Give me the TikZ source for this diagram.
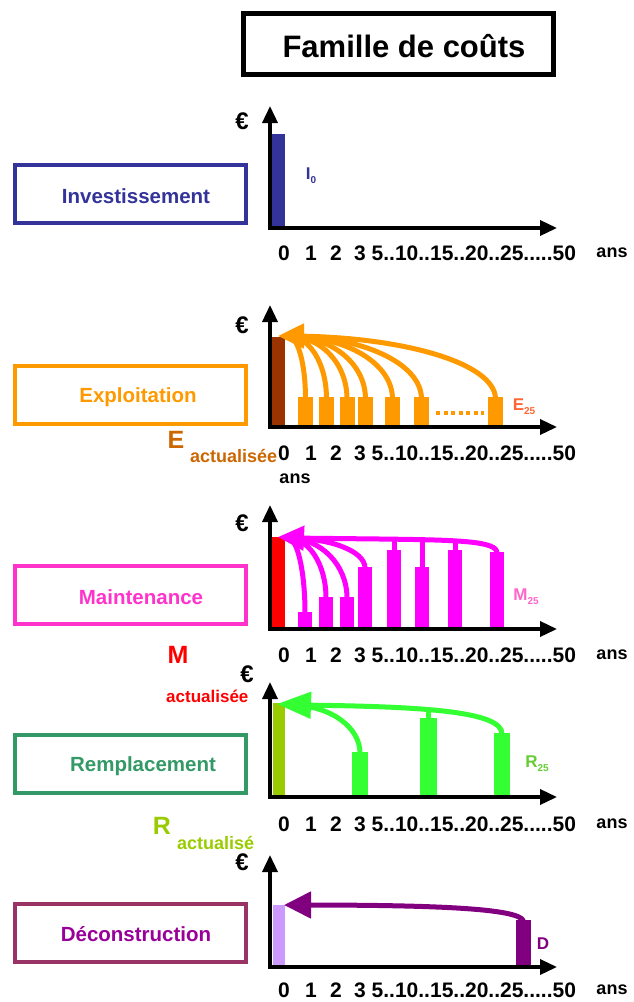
\documentclass[tikz,border=0pt]{standalone}
\usepackage{fontspec}
\setmainfont{Liberation Sans}
\usetikzlibrary{arrows.meta}

\definecolor{invcol}{HTML}{333399}
\definecolor{expcol}{HTML}{FF9900}
\definecolor{expdark}{HTML}{993300}
\definecolor{explab}{HTML}{CC6600}
\definecolor{expsub}{HTML}{FF6633}
\definecolor{maincol}{HTML}{FF33CC}
\definecolor{mainbar}{HTML}{FF00FF}
\definecolor{mainlab}{HTML}{FF66CC}
\definecolor{remcol}{HTML}{339966}
\definecolor{rembar}{HTML}{33FF33}
\definecolor{remzero}{HTML}{99CC00}
\definecolor{remlab}{HTML}{66CC33}
\definecolor{decbox}{HTML}{993366}
\definecolor{dectext}{HTML}{990099}
\definecolor{decbar}{HTML}{800080}
\definecolor{declight}{HTML}{CC99FF}

\newcommand{\fs}[1]{\fontsize{#1}{#1}\selectfont\bfseries}

\begin{document}
\begin{tikzpicture}[x=1pt,y=-1pt,
  catbox/.style={draw=#1, line width=4pt,
    minimum width=231pt, minimum height=58pt, inner sep=0pt},
  cattext/.style={text=#1, font=\fs{20.5}, inner sep=0pt},
  axe/.style={line width=3.5pt, -{Triangle[length=17pt,width=15pt]}},
  ticklab/.style={font=\fs{21}, inner sep=0pt},
  euro/.style={font=\fs{24}, inner sep=0pt},
  curve/.style={line width=5pt, draw=#1},
  bigtip/.style={line width=5pt, draw=#1, fill=#1,
    -{Triangle[length=26pt,width=24pt]}}
]
\useasboundingbox (0,0) rectangle (633,1002);

% ---- title ----
\node[draw, line width=5pt, minimum width=310pt, minimum height=61pt]
  (titre) at (398.5,44) {};
\node[font=\fs{31}, inner sep=0pt] (titretxt) at (404,46) {Famille de coûts};

% ---- category boxes ----
\node[catbox=invcol]  (binv) at (130.5,194) {};
\node[catbox=expcol]  (bexp) at (130.5,395) {};
\node[catbox=maincol] (bmai) at (130.5,595) {};
\node[catbox=remcol]  (brem) at (130.5,764) {};
\node[catbox=decbox]  (bdec) at (130.5,933) {};
\node[cattext=invcol]  (tinv) at (136,196) {Investissement};
\node[cattext=expcol]  (texp) at (138,397) {Exploitation};
\node[cattext=maincol] (tmai) at (141,597) {Maintenance};
\node[cattext=remcol]  (trem) at (143,766) {Remplacement};
\node[cattext=dectext] (tdec) at (136,934) {Déconstruction};

% ---- bars (drawn before the axes) ----
% investment
\fill[invcol] (271,134) rectangle (285,228);
% operation
\fill[expdark] (272,337) rectangle (285,427);
\foreach \a in {298,319,339.5,358,385,414,488}
  \fill[expcol] (\a,397) rectangle ++(15,30);
\draw[expcol, line width=4pt, dash pattern=on 4pt off 3.5pt] (436,413) -- (484,413);
% maintenance
\fill[red] (272,537) rectangle (285,629);
\foreach \a/\t in {298/612,319/597,340/597,358/567,387/550,415/567,448/550,490/552}
  \fill[mainbar] (\a,\t) rectangle ++(14,629-\t);
% replacement
\fill[remzero] (273,703) rectangle (285,797);
\fill[rembar] (352,752) rectangle (368,797);
\fill[rembar] (420,718) rectangle (437,797);
\fill[rembar] (494,733) rectangle (510,797);
% deconstruction
\fill[declight] (273,905) rectangle (285,967);
\fill[decbar] (516,920) rectangle (531,967);

% ---- discounting arrows ----
% operation
\foreach \c in {305.5,326.5,347,365.5,392.5,421.5,495.5}
  \draw[curve=expcol] (\c,399) .. controls (\c,363) and ({288+0.55*(\c-288)},336) .. (288,336);
\draw[bigtip=expcol] (300,336) -- (278,336);
% maintenance
\foreach \c/\t in {305/612,326/597,347/597,365/567}
  \draw[curve=mainbar] (\c,\t+1) .. controls (\c,{\t-0.55*(\t-538)}) and ({288+0.55*(\c-288)},538) .. (288,538);
\draw[curve=mainbar] (497,553) .. controls (497,541) and (460,540) .. (380,539) -- (288,538);
\foreach \c/\t in {394/551,422/568,455/551}
  \draw[curve=mainbar] (\c,\t) -- (\c,540);
\draw[bigtip=mainbar] (300,538) -- (278,537);
% replacement
\draw[curve=rembar] (360,753) .. controls (360,727) and (330,705) .. (290,705);
\draw[curve=rembar] (502,734) .. controls (502,712) and (430,706) .. (290,705);
\draw[curve=rembar] (428.5,719) -- (428.5,710);
\draw[bigtip=rembar, -{Triangle[length=34pt,width=26pt]}] (305,705) -- (277,704);
% deconstruction
\draw[curve=decbar] (523.5,921) .. controls (519,908) and (430,905) .. (300,905);
\draw[bigtip=decbar, -{Triangle[length=27pt,width=26pt]}] (305,905) -- (284,905);

% ---- axes ----
\foreach \Y/\T in {228/106,427/305,629/505,797/682,967/855}{
  \draw[axe] (270,\Y+1.75) -- (270,\T);
  \draw[axe] (268.25,\Y) -- (557,\Y);
}

% ---- axis labels ----
\foreach \Y/\n in {253/a,453/b,655/c,824/d,990/e}{
  \node[ticklab] (z\n) at (284,\Y) {0};
  \node[ticklab] (u\n) at (311,\Y) {1};
  \node[ticklab] (d\n) at (336,\Y) {2};
  \node[ticklab, anchor=west] (r\n) at (354,\Y) {3 5..10..15..20..25.....50};
}
\foreach \Y/\n in {253/a,655/c,824/d,990/e}
  \node[font=\fs{18}, inner sep=0pt] (ans\n) at (612,\Y) {ans};
\node[font=\fs{18}, inner sep=0pt] (ansb) at (295,479) {ans};

\foreach \x/\y/\n in {242/121/a,242/325/b,242/523/c,247/674/d,242/862/e}
  \node[euro] (eur\n) at (\x,\y) {€};

% ---- cost labels ----
\node[text=invcol, inner sep=0pt] (izero) at (311,176)
  {{\fs{17}I}\raisebox{-4pt}{\fs{10}0}};
\node[text=expsub, inner sep=0pt] (e25) at (524,407)
  {{\fs{17}E}\raisebox{-4pt}{\fs{10}25}};
\node[text=mainlab, inner sep=0pt] (m25) at (526,597)
  {{\fs{17}M}\raisebox{-4pt}{\fs{10}25}};
\node[text=remlab, inner sep=0pt] (r25) at (537,764)
  {{\fs{17}R}\raisebox{-4pt}{\fs{10}25}};
\node[text=decbar, font=\fs{17}, inner sep=0pt] (dlab) at (543,944) {D};

% discounted totals
\node[text=explab, font=\fs{25}, inner sep=0pt] (eact) at (176,440) {E};
\node[text=explab, font=\fs{18}, inner sep=0pt, anchor=west] (eactsub) at (190,456) {actualisée};
\node[text=red, font=\fs{25}, inner sep=0pt] (mact) at (178,655) {M};
\node[text=red, font=\fs{17}, inner sep=0pt, anchor=west] (mactsub) at (166,696) {actualisée};
\node[text=remzero, font=\fs{25}, inner sep=0pt] (ract) at (162,826) {R};
\node[text=remzero, font=\fs{18}, inner sep=0pt, anchor=west] (ractsub) at (177,843) {actualisé};
\end{tikzpicture}
\end{document}
